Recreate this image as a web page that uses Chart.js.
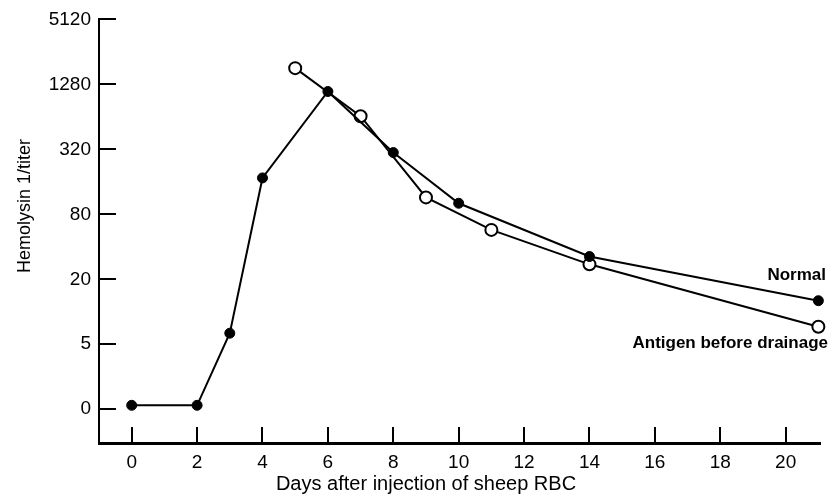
<!DOCTYPE html>
<html>
<head>
<meta charset="utf-8">
<script src="https://cdn.jsdelivr.net/npm/chart.js@4/dist/chart.umd.min.js"></script>
<style>
  html, body { margin: 0; padding: 0; background: #fff; }
  #wrap { width: 828px; height: 503px; }
</style>
</head>
<body>
<div id="wrap"><canvas id="chart" width="828" height="503"></canvas></div>
<script>
// Values. Y is in axis steps: 0 -> "0", 1 -> "5", 2 -> "20" ... 6 -> "5120"
const normalDays = [0, 2, 3, 4, 6, 8, 10, 14, 21];
const normalLevels = [0.06, 0.06, 1.17, 3.56, 4.89, 3.95, 3.17, 2.35, 1.67];
const antigenDays = [5, 7, 9, 11, 14, 21];
const antigenLevels = [5.25, 4.51, 3.26, 2.76, 2.23, 1.27];

const xTicks = [0, 2, 4, 6, 8, 10, 12, 14, 16, 18, 20];
const yTickLabels = ['0', '5', '20', '80', '320', '1280', '5120'];

const FONT = "'Liberation Sans', Arial, sans-serif";

function toPoints(xs, ys) {
    return xs.map((x, i) => ({ x: x, y: ys[i] }));
}

// Draws inward tick marks, the axis titles and the series labels
const decorations = {
    id: 'decorations',
    afterDraw(chart) {
        const ctx = chart.ctx;
        const xs = chart.scales.x;
        const ys = chart.scales.y;
        const area = chart.chartArea;

        ctx.save();
        ctx.strokeStyle = '#000';
        ctx.lineWidth = 2;
        ctx.beginPath();
        xTicks.forEach(v => {
            const px = Math.round(xs.getPixelForValue(v));
            ctx.moveTo(px, area.bottom);
            ctx.lineTo(px, area.bottom - 16);
        });
        yTickLabels.forEach((lbl, i) => {
            const py = Math.round(ys.getPixelForValue(i));
            ctx.moveTo(area.left, py);
            ctx.lineTo(area.left + 17, py);
        });
        ctx.stroke();

        ctx.fillStyle = '#000';
        // x title
        ctx.font = '20px ' + FONT;
        ctx.textAlign = 'center';
        ctx.textBaseline = 'middle';
        ctx.fillText('Days after injection of sheep RBC', 426, 484);

        // y title
        ctx.save();
        ctx.translate(25, 206);
        ctx.rotate(-Math.PI / 2);
        ctx.font = '18px ' + FONT;
        ctx.fillText('Hemolysin 1/titer', 0, 0);
        ctx.restore();

        // series labels next to the last points
        ctx.font = 'bold 17px ' + FONT;
        ctx.textAlign = 'right';
        const nLast = chart.getDatasetMeta(0).data[normalDays.length - 1];
        const aLast = chart.getDatasetMeta(1).data[antigenDays.length - 1];
        ctx.fillText('Normal', 826, nLast.y - 25);
        ctx.fillText('Antigen before drainage', 828, aLast.y + 17);
        ctx.restore();
    }
};

new Chart(document.getElementById('chart'), {
    type: 'line',
    data: {
        datasets: [
            {
                label: 'Normal',
                data: toPoints(normalDays, normalLevels),
                borderColor: '#000',
                borderWidth: 2,
                pointRadius: 5,
                pointBackgroundColor: '#000',
                pointBorderColor: '#000',
                pointBorderWidth: 1,
                tension: 0,
                clip: false
            },
            {
                label: 'Antigen before drainage',
                data: toPoints(antigenDays, antigenLevels),
                borderColor: '#000',
                borderWidth: 2,
                pointRadius: 6,
                pointBackgroundColor: '#fff',
                pointBorderColor: '#000',
                pointBorderWidth: 2,
                tension: 0,
                clip: false
            }
        ]
    },
    options: {
        responsive: false,
        animation: false,
        devicePixelRatio: 1,
        layout: { padding: { top: 13, right: 6, left: 0, bottom: 0 } },
        plugins: {
            legend: { display: false },
            tooltip: { enabled: false }
        },
        scales: {
            x: {
                type: 'linear',
                min: -1,
                max: 21.05,
                afterBuildTicks: s => { s.ticks = xTicks.map(v => ({ value: v })); },
                afterFit: s => { s.height = 60; },
                grid: { drawOnChartArea: false, drawTicks: false },
                border: { display: true, color: '#000', width: 3 },
                ticks: {
                    color: '#000',
                    font: { family: FONT, size: 19 },
                    padding: 8,
                    maxRotation: 0
                }
            },
            y: {
                type: 'linear',
                min: -0.52,
                max: 6,
                afterBuildTicks: s => { s.ticks = yTickLabels.map((l, i) => ({ value: i })); },
                afterFit: s => { s.width = 99; },
                grid: { drawOnChartArea: false, drawTicks: false },
                border: { display: true, color: '#000', width: 2 },
                ticks: {
                    color: '#000',
                    font: { family: FONT, size: 19 },
                    padding: 8,
                    callback: (v) => yTickLabels[v]
                }
            }
        }
    },
    plugins: [decorations]
});
</script>
</body>
</html>
